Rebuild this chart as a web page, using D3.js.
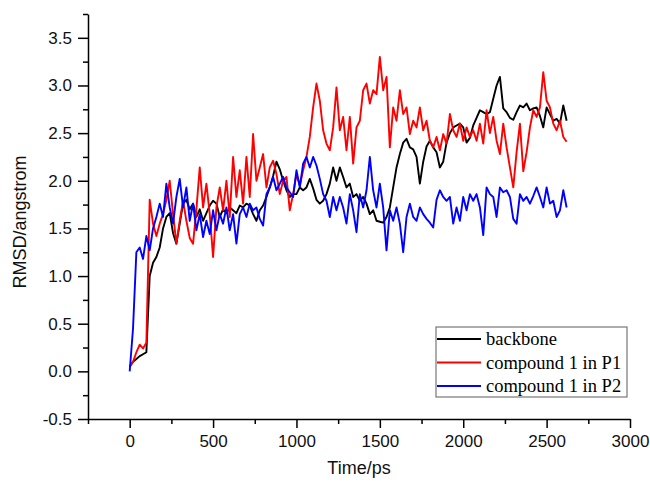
<!DOCTYPE html>
<html>
<head>
<meta charset="utf-8">
<script src="https://cdn.jsdelivr.net/npm/d3@7"></script>
<style>
  body { margin: 0; background: #fff; }
  svg { display: block; }
  .axis text { font-family: "Liberation Sans", Arial, sans-serif; font-size: 17px; fill: #111; }
  .axis path, .axis line { stroke: #000; stroke-width: 1.5; }
  .title { font-family: "Liberation Sans", Arial, sans-serif; font-size: 18px; fill: #111; }
  .legend text { font-family: "Liberation Serif", "Times New Roman", serif; font-size: 18.5px; fill: #000; }
</style>
</head>
<body>
<script>
// sampling times (ps)
var timePs = [
  0, 20, 40, 60, 80, 100, 120, 140, 160, 180, 200, 220, 240, 260, 280, 300, 320, 340, 360, 380,
  400, 420, 440, 460, 480, 500, 520, 540, 560, 580, 600, 620, 640, 660, 680, 700, 720, 740, 760, 780,
  800, 820, 840, 860, 880, 900, 920, 940, 960, 980, 1000, 1020, 1040, 1060, 1080, 1100, 1120, 1140, 1160, 1180,
  1200, 1220, 1240, 1260, 1280, 1300, 1320, 1340, 1360, 1380, 1400, 1420, 1440, 1460, 1480, 1500, 1520, 1540, 1560, 1580,
  1600, 1620, 1640, 1660, 1680, 1700, 1720, 1740, 1760, 1780, 1800, 1820, 1840, 1860, 1880, 1900, 1920, 1940, 1960, 1980,
  2000, 2020, 2040, 2060, 2080, 2100, 2120, 2140, 2160, 2180, 2200, 2220, 2240, 2260, 2280, 2300, 2320, 2340, 2360, 2380,
  2400, 2420, 2440, 2460, 2480, 2500, 2520, 2540, 2560, 2580, 2600, 2620
];

// RMSD values (angstrom)
var backbone = [
  0.05, 0.10, 0.13, 0.16, 0.18, 0.20, 1.00, 1.14, 1.20, 1.30, 1.50, 1.62, 1.66, 1.45, 1.34, 1.55, 1.76, 1.80, 1.70, 1.76,
  1.62, 1.70, 1.58, 1.66, 1.74, 1.79, 1.76, 1.62, 1.70, 1.66, 1.72, 1.69, 1.66, 1.74, 1.72, 1.76, 1.74, 1.65, 1.58, 1.69,
  1.74, 1.83, 1.93, 2.05, 2.20, 2.12, 2.00, 1.90, 1.83, 1.86, 1.86, 1.93, 1.90, 1.93, 2.02, 1.92, 1.80, 1.76, 1.79, 1.86,
  1.97, 2.14, 2.00, 2.14, 2.04, 1.93, 1.97, 1.83, 1.86, 1.79, 1.83, 1.76, 1.65, 1.69, 1.58, 1.57, 1.56, 1.62, 1.72, 1.93,
  2.14, 2.28, 2.40, 2.44, 2.35, 2.33, 2.25, 1.97, 2.20, 2.36, 2.42, 2.35, 2.30, 2.14, 2.20, 2.40, 2.50, 2.56, 2.58, 2.60,
  2.56, 2.40, 2.45, 2.58, 2.66, 2.74, 2.72, 2.70, 2.72, 2.86, 3.00, 3.09, 2.76, 2.72, 2.66, 2.64, 2.72, 2.79, 2.77, 2.81,
  2.74, 2.76, 2.77, 2.68, 2.56, 2.77, 2.70, 2.63, 2.65, 2.60, 2.79, 2.63
];

var compoundP1 = [
  0.05, 0.10, 0.20, 0.28, 0.24, 0.30, 1.80, 1.55, 1.42, 1.55, 1.65, 1.80, 2.00, 1.65, 1.34, 1.58, 1.79, 1.58, 1.40, 1.34,
  1.70, 2.14, 1.72, 1.97, 1.65, 1.20, 1.72, 1.93, 1.69, 2.00, 1.62, 2.25, 1.83, 2.11, 1.76, 2.25, 1.83, 2.49, 2.00, 2.14,
  2.28, 1.93, 2.14, 2.21, 2.07, 1.86, 2.00, 2.04, 1.69, 1.86, 2.07, 1.95, 2.11, 2.25, 2.46, 2.77, 3.02, 2.84, 2.53, 2.39,
  2.32, 2.56, 2.98, 2.53, 2.67, 2.32, 2.67, 2.18, 2.56, 2.63, 2.95, 3.02, 2.81, 2.95, 2.91, 3.30, 2.95, 3.09, 2.35, 2.77,
  2.63, 2.95, 2.70, 2.77, 2.49, 2.63, 2.56, 2.77, 2.53, 2.63, 2.42, 2.35, 2.46, 2.32, 2.49, 2.39, 2.70, 2.53, 2.46, 2.60,
  2.42, 2.56, 2.46, 2.53, 2.42, 2.60, 2.39, 2.74, 2.50, 2.67, 2.42, 2.28, 2.60, 2.35, 2.14, 1.93, 2.30, 2.60, 2.10, 2.30,
  2.56, 2.74, 2.67, 2.77, 3.14, 2.84, 2.77, 2.60, 2.53, 2.63, 2.46, 2.41
];

var compoundP2 = [
  0.00, 0.45, 1.25, 1.30, 1.18, 1.42, 1.27, 1.50, 1.62, 1.76, 1.62, 1.97, 1.72, 1.55, 1.83, 2.02, 1.72, 1.93, 1.58, 1.76,
  1.48, 1.65, 1.41, 1.58, 1.44, 1.69, 1.48, 1.65, 1.55, 1.72, 1.48, 1.65, 1.34, 1.65, 1.72, 1.62, 1.76, 1.69, 1.72, 1.60,
  1.53, 1.86, 1.93, 2.04, 1.90, 1.97, 2.04, 1.93, 1.88, 1.83, 2.11, 1.93, 2.18, 2.25, 2.14, 2.25, 2.16, 2.02, 1.86, 1.79,
  1.62, 1.83, 1.69, 1.83, 1.72, 1.55, 1.86, 1.69, 1.46, 1.86, 1.72, 1.90, 2.25, 1.90, 1.72, 1.97, 1.72, 1.27, 1.69, 1.58,
  1.72, 1.55, 1.25, 1.62, 1.76, 1.62, 1.58, 1.72, 1.65, 1.60, 1.56, 1.51, 1.80, 1.90, 1.83, 1.79, 1.83, 1.55, 1.72, 1.58,
  1.83, 1.69, 1.86, 1.79, 1.86, 1.72, 1.43, 1.93, 1.86, 1.83, 1.62, 1.93, 1.88, 1.90, 1.83, 1.60, 1.55, 1.86, 1.79, 1.83,
  1.76, 1.84, 1.93, 1.83, 1.72, 1.93, 1.76, 1.79, 1.62, 1.69, 1.90, 1.72
];

var seriesNames = ["backbone", "compound 1 in P1", "compound 1 in P2"];
var seriesColors = ["#000000", "#ff0000", "#0000ff"];
var seriesValues = [backbone, compoundP1, compoundP2];

var xMajorTicks = [0, 500, 1000, 1500, 2000, 2500, 3000];
var xMinorTicks = [-250, 250, 750, 1250, 1750, 2250, 2750];
var yMajorTicks = [-0.5, 0.0, 0.5, 1.0, 1.5, 2.0, 2.5, 3.0, 3.5];
var yMinorTicks = [-0.25, 0.25, 0.75, 1.25, 1.75, 2.25, 2.75, 3.25, 3.75];

var width = 650, height = 482;
var plotLeft = 88, plotRight = 630, plotTop = 14, plotBottom = 419;

var x = d3.scaleLinear().domain([-250, 3000]).range([plotLeft, plotRight]);
var y = d3.scaleLinear().domain([-0.5, 3.75]).range([plotBottom, plotTop]);

var svg = d3.select("body").append("svg")
    .attr("width", width)
    .attr("height", height);

//Minor ticks first, without domain line
svg.append("g").attr("class", "axis")
    .attr("transform", "translate(0," + plotBottom + ")")
    .call(d3.axisBottom(x).tickValues(xMinorTicks).tickSize(5).tickFormat(""))
    .select(".domain").remove();
svg.append("g").attr("class", "axis")
    .attr("transform", "translate(" + plotLeft + ",0)")
    .call(d3.axisLeft(y).tickValues(yMinorTicks).tickSize(5).tickFormat(""))
    .select(".domain").remove();

//Major ticks with labels
svg.append("g").attr("class", "axis")
    .attr("transform", "translate(0," + plotBottom + ")")
    .call(d3.axisBottom(x).tickValues(xMajorTicks).tickSize(9).tickSizeOuter(0)
        .tickPadding(7).tickFormat(function(d) { return String(d); }));
svg.append("g").attr("class", "axis")
    .attr("transform", "translate(" + plotLeft + ",0)")
    .call(d3.axisLeft(y).tickValues(yMajorTicks).tickSize(10).tickSizeOuter(0)
        .tickPadding(6).tickFormat(function(d) { return d.toFixed(1); }));

//Axis titles
svg.append("text").attr("class", "title")
    .attr("x", (plotLeft + plotRight) / 2).attr("y", 474)
    .attr("text-anchor", "middle")
    .text("Time/ps");
svg.append("text").attr("class", "title")
    .attr("transform", "translate(26,222) rotate(-90)")
    .attr("text-anchor", "middle")
    .text("RMSD/angstrom");

//Draw the three traces, blue ends on top
var line = d3.line()
    .x(function(d, i) { return x(timePs[i]); })
    .y(function(d) { return y(d); });

for (var i = 0; i < seriesValues.length; i++) {
    svg.append("path")
        .datum(seriesValues[i])
        .attr("fill", "none")
        .attr("stroke", seriesColors[i])
        .attr("stroke-width", 1.9)
        .attr("stroke-linejoin", "round")
        .attr("d", line);
}

//Legend box
var legend = svg.append("g").attr("class", "legend");
legend.append("rect")
    .attr("x", 436).attr("y", 327)
    .attr("width", 191).attr("height", 70)
    .attr("fill", "#fff")
    .attr("stroke", "#777")
    .attr("stroke-width", 1.2);
for (var j = 0; j < seriesNames.length; j++) {
    var cy = 339 + j * 23.5;
    legend.append("line")
        .attr("x1", 437).attr("x2", 481)
        .attr("y1", cy).attr("y2", cy)
        .attr("stroke", seriesColors[j])
        .attr("stroke-width", 2);
    legend.append("text")
        .attr("x", 486).attr("y", cy + 6)
        .text(seriesNames[j]);
}
</script>
</body>
</html>
